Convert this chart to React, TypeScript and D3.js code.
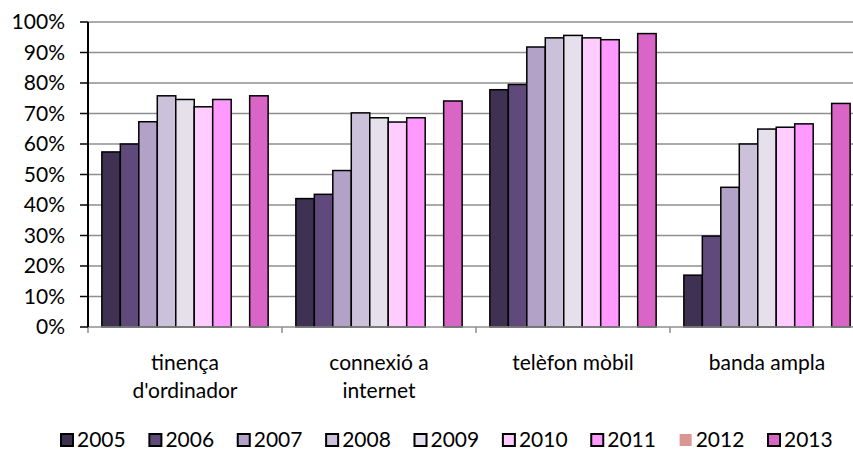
import React from 'react';
import * as d3 from 'd3';

const categories = ['tinença\nd\'ordinador', 'connexió a\ninternet', 'telèfon mòbil', 'banda ampla'];
const years = ['2005', '2006', '2007', '2008', '2009', '2010', '2011', '2012', '2013'];
const colors = ['#3F3151', '#604A7B', '#B3A2C7', '#CCC1DA', '#E6E0EC', '#FFCCFF', '#FF99FF', '#D99694', '#D966C6'];

// values per year, one entry per category (2012 has no data)
const v2005 = [57.4, 42.1, 77.8, 17.0];
const v2006 = [60.0, 43.5, 79.5, 29.8];
const v2007 = [67.3, 51.3, 91.8, 45.8];
const v2008 = [75.8, 70.2, 94.8, 60.0];
const v2009 = [74.6, 68.6, 95.6, 64.9];
const v2010 = [72.2, 67.2, 94.8, 65.5];
const v2011 = [74.6, 68.6, 94.2, 66.6];
const v2012: (number | null)[] = [null, null, null, null];
const v2013 = [75.8, 74.1, 96.2, 73.3];
const series = [v2005, v2006, v2007, v2008, v2009, v2010, v2011, v2012, v2013];

const yTicks = [0, 10, 20, 30, 40, 50, 60, 70, 80, 90, 100];

const W = 853;
const H = 450;
const FONT = 'Lato, "Open Sans", sans-serif';

export default function App() {
  // plot area
  const left = 88;
  const right = 864;
  const top = 22;
  const bottom = 327;

  const x = d3.scaleBand<string>().domain(categories).range([left, right]).padding(0);
  const xi = d3
    .scaleBand<string>()
    .domain(years)
    .range([0, x.bandwidth()])
    .paddingInner(0)
    .paddingOuter(0.75);
  const y = d3.scaleLinear().domain([0, 100]).range([bottom, top]);

  const boundaries = categories.map((c) => x(c) as number).concat([right]);

  const legendX = d3.scaleLinear().domain([0, years.length - 1]).range([60, 767]);

  return (
    <div style={{ position: 'absolute', left: 0, top: 0 }}>
      <svg width={W} height={H} style={{ display: 'block', background: '#fff' }}>
        {/* grid */}
        {yTicks.slice(1).map((t) => (
          <line key={t} x1={left} x2={right} y1={y(t)} y2={y(t)} stroke="#8f8f8f" strokeWidth={1.5} />
        ))}

        {/* bars */}
        {series.map((vals, si) =>
          vals.map((v, ci) =>
            v == null ? null : (
              <rect
                key={`${si}-${ci}`}
                x={(x(categories[ci]) as number) + (xi(years[si]) as number)}
                y={y(v)}
                width={xi.bandwidth()}
                height={y(0) - y(v)}
                fill={colors[si]}
                stroke="#000"
                strokeWidth={1.5}
              />
            )
          )
        )}

        {/* x axis */}
        <line x1={left} x2={right} y1={bottom} y2={bottom} stroke="#8f8f8f" strokeWidth={1.5} />
        {boundaries.map((b, i) => (
          <line key={i} x1={b} x2={b} y1={bottom} y2={bottom + 6} stroke="#8f8f8f" strokeWidth={1.5} />
        ))}

        {/* y axis */}
        <line x1={left} x2={left} y1={top} y2={bottom} stroke="#000" strokeWidth={2} />
        {yTicks.map((t) => (
          <g key={t}>
            <line x1={left - 8} x2={left} y1={y(t)} y2={y(t)} stroke="#000" strokeWidth={1.5} />
            <text
              x={65}
              y={y(t)}
              dy="0.35em"
              textAnchor="end"
              fontFamily={FONT}
              fontSize={21}
              fill="#000"
            >
              {t}%
            </text>
          </g>
        ))}

        {/* category labels */}
        {categories.map((c) => {
          const lines = c.split('\n');
          const cx = (x(c) as number) + x.bandwidth() / 2;
          return (
            <text key={c} textAnchor="middle" fontFamily={FONT} fontSize={21} fill="#000">
              {lines.map((l, i) => (
                <tspan key={i} x={cx} y={370 + i * 28}>
                  {l}
                </tspan>
              ))}
            </text>
          );
        })}

        {/* legend */}
        {years.map((yr, i) => {
          const lx = legendX(i);
          const noBorder = yr === '2012';
          return (
            <g key={yr}>
              <rect
                x={lx + 1}
                y={434}
                width={12}
                height={12}
                fill={colors[i]}
                stroke={noBorder ? 'none' : '#000'}
                strokeWidth={2}
              />
              <text x={lx + 17} y={447} fontFamily={FONT} fontSize={21} fill="#000">
                {yr}
              </text>
            </g>
          );
        })}
      </svg>
    </div>
  );
}
